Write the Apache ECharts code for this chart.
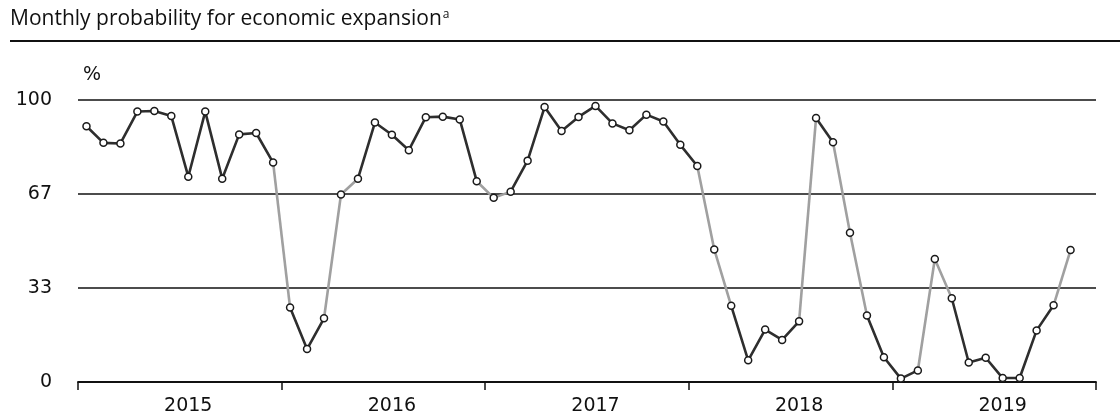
<!DOCTYPE html>
<html>
<head>
<meta charset="utf-8">
<script src="https://cdn.jsdelivr.net/npm/echarts@6/dist/echarts.min.js"></script>
<style>
  html, body { margin: 0; padding: 0; background: #fff; }
  #chart { width: 1120px; height: 416px; }
</style>
</head>
<body>
<div id="chart"></div>
<script>
// ---- data ----
const years = ['2015', '2016', '2017', '2018', '2019'];
const months = ['Jan','Feb','Mar','Apr','May','Jun','Jul','Aug','Sep','Oct','Nov','Dec'];
const v2015 = [90.7, 84.8, 84.6, 95.9, 96.1, 94.3, 72.8, 95.9, 72.1, 87.8, 88.3, 77.8];
const v2016 = [26.4, 11.7, 22.6, 66.5, 72.1, 92.0, 87.7, 82.2, 93.9, 94.1, 93.1, 71.2];
const v2017 = [65.3, 67.5, 78.5, 97.5, 89.0, 94.0, 97.9, 91.7, 89.3, 94.8, 92.4, 84.1];
const v2018 = [76.6, 47.0, 27.0, 7.7, 18.6, 14.9, 21.5, 93.6, 85.0, 52.9, 23.6, 8.8];
const v2019 = [1.2, 4.1, 43.6, 29.7, 6.9, 8.6, 1.4, 1.4, 18.3, 27.2, 46.8, null];
const yTickLabels = ['0', '33', '67', '100'];
const lowBand = 33, highBand = 67;

// ---- build ----
const categories = [];
years.forEach(y => months.forEach(m => categories.push(m + ' ' + y)));
const values = [].concat(v2015, v2016, v2017, v2018, v2019);

const DARK = '#2e2e2e', LIGHT = '#a0a0a0';
function segLight(i) {
  const a = values[i], b = values[i + 1];
  return Math.min(a, b) < highBand && Math.max(a, b) > lowBand;
}
const runs = [];
for (let i = 0; i < values.length - 1; i++) {
  if (values[i] == null || values[i + 1] == null) continue;
  const light = segLight(i);
  const last = runs[runs.length - 1];
  if (last && last.light === light && last.end === i - 1) last.end = i;
  else runs.push({ start: i, end: i, light });
}
const lineSeries = runs.map(r => ({
  type: 'line',
  data: values.map((v, k) => (k >= r.start && k <= r.end + 1 ? v : null)),
  symbol: 'none',
  connectNulls: false,
  lineStyle: { color: r.light ? LIGHT : DARK, width: 2.6 },
  z: 2,
  animation: false,
  silent: true
}));

const LABEL_FONT = 'DejaVu Sans';
const chart = echarts.init(document.getElementById('chart'));
chart.setOption({
  animation: false,
  title: {
    text: 'Monthly probability for economic expansion{sup|a}',
    left: 10,
    top: 9,
    padding: 0,
    textStyle: {
      fontFamily: 'Open Sans',
      fontSize: 21,
      fontWeight: 'normal',
      color: '#111',
      rich: { sup: { fontFamily: 'Open Sans', fontSize: 12, color: '#111', padding: [0, 0, 9, 1] } }
    }
  },
  graphic: [{
    type: 'line',
    shape: { x1: 10, y1: 41, x2: 1120, y2: 41 },
    style: { stroke: '#111', lineWidth: 2 }
  }],
  grid: { left: 78, right: 24, top: 100, bottom: 32, containLabel: false },
  xAxis: {
    type: 'category',
    data: categories,
    boundaryGap: true,
    axisLine: { lineStyle: { color: '#111', width: 1.8 } },
    axisTick: {
      show: true,
      length: 8,
      interval: (index) => index % 12 === 0,
      lineStyle: { color: '#111', width: 1.5 }
    },
    axisLabel: {
      interval: (index) => index % 12 === 6,
      formatter: (v) => v.split(' ')[1],
      fontFamily: LABEL_FONT,
      fontSize: 19,
      color: '#111',
      margin: 15
    },
    splitLine: { show: false }
  },
  yAxis: {
    type: 'value',
    min: 0,
    max: 100,
    interval: 100 / 3,
    name: '%',
    nameLocation: 'end',
    nameGap: 25,
    nameTextStyle: { fontFamily: LABEL_FONT, fontSize: 19, color: '#111', align: 'left', verticalAlign: 'middle', padding: [0, 0, 0, 5] },
    axisLine: { show: false },
    axisTick: { show: false },
    axisLabel: {
      formatter: (v, i) => yTickLabels[i],
      fontFamily: LABEL_FONT,
      fontSize: 19,
      color: '#111',
      margin: 26
    },
    splitLine: { lineStyle: { color: '#111', width: 1.6 } }
  },
  series: lineSeries.concat([{
    type: 'scatter',
    data: values,
    symbol: 'circle',
    symbolSize: 7,
    itemStyle: { color: '#ffffff', borderColor: '#1a1a1a', borderWidth: 1.5, opacity: 1 },
    z: 5,
    animation: false,
    silent: true
  }])
});
</script>
</body>
</html>
